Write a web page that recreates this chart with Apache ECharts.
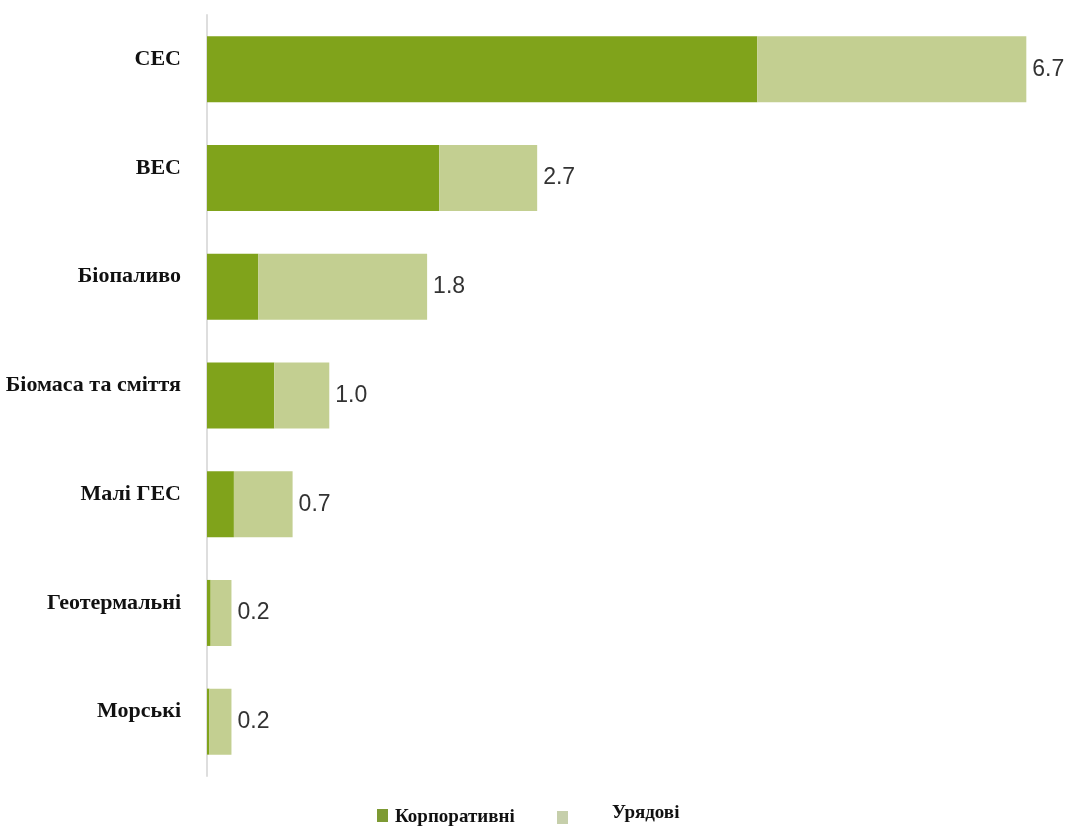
<!DOCTYPE html>
<html>
<head>
<meta charset="utf-8">
<style>
  html, body { margin: 0; padding: 0; background: #ffffff; }
  #chart { width: 1072px; height: 830px; }
</style>
<script src="https://cdn.jsdelivr.net/npm/echarts@6/dist/echarts.min.js"></script>
</head>
<body>
<div id="chart"></div>
<script>
// Renewable energy sources and their totals (stacked: corporate + government)
const categories = ['СЕС', 'ВЕС', 'Біопаливо', 'Біомаса та сміття', 'Малі ГЕС', 'Геотермальні', 'Морські'];
const totals     = [6.7, 2.7, 1.8, 1.0, 0.7, 0.2, 0.2];
const corporate  = [4.5, 1.9, 0.42, 0.55, 0.22, 0.03, 0.02];
const seriesNames = ['Корпоративні', 'Урядові'];

// Government part is what remains of each total
const government = totals.map((t, i) => +(t - corporate[i]).toFixed(2));

const DARK = '#80a31b';
const LIGHT = '#c3cf91';

const legendText = {
  fontFamily: 'Liberation Serif',
  fontWeight: 'bold',
  fontSize: 19,
  color: '#111111'
};

const chart = echarts.init(document.getElementById('chart'), null, { renderer: 'canvas' });

chart.setOption({
  backgroundColor: '#ffffff',
  animation: false,
  grid: { left: 207, right: 9, top: 15, bottom: 54, containLabel: false },
  xAxis: {
    type: 'value',
    min: 0,
    max: 7,
    show: false
  },
  yAxis: {
    type: 'category',
    data: categories,
    inverse: true,
    axisLine: { show: true, lineStyle: { color: '#dedede', width: 2 } },
    axisTick: { show: false },
    axisLabel: {
      margin: 26,
      fontFamily: 'Liberation Serif',
      fontWeight: 'bold',
      fontSize: 22,
      color: '#111111',
      verticalAlign: 'bottom',
      lineHeight: 20
    }
  },
  legend: [
    {
      data: [{ name: seriesNames[0], itemStyle: { color: '#7d9a33' } }],
      left: 372,
      top: 803,
      icon: 'rect',
      itemWidth: 11,
      itemHeight: 13,
      formatter: '{t|{name}}',
      textStyle: {
        rich: { t: Object.assign({ padding: [4, 0, 0, 2] }, legendText) }
      }
    },
    {
      data: [{ name: seriesNames[1], itemStyle: { color: '#c6cfab' } }],
      left: 552,
      top: 799,
      icon: 'rect',
      itemWidth: 11,
      itemHeight: 13,
      formatter: '{t|{name}}',
      textStyle: {
        rich: { t: Object.assign({ padding: [0, 0, 8, 39] }, legendText) }
      }
    }
  ],
  series: [
    {
      name: seriesNames[0],
      type: 'bar',
      stack: 'total',
      barWidth: 66,
      itemStyle: { color: DARK },
      data: corporate
    },
    {
      name: seriesNames[1],
      type: 'bar',
      stack: 'total',
      barWidth: 66,
      itemStyle: { color: LIGHT },
      label: {
        show: true,
        position: 'right',
        distance: 6,
        fontFamily: 'Liberation Sans',
        fontSize: 23,
        color: '#333333',
        formatter: p => totals[p.dataIndex].toFixed(1)
      },
      data: government
    }
  ]
});
</script>
</body>
</html>
